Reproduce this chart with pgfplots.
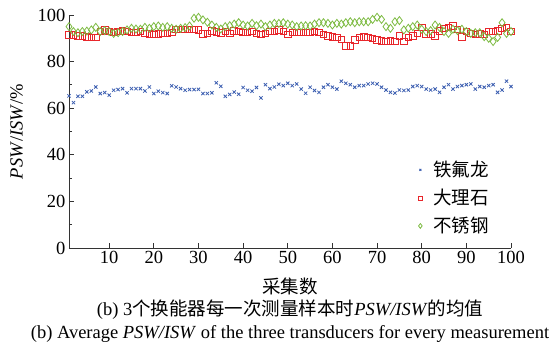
\documentclass[border=0pt]{standalone}
\usepackage{pgfplots}
\usepackage{pgfplotstable}
\pgfplotsset{compat=1.18}
\usepackage{fontspec}
\setmainfont{Liberation Serif}
\newfontfamily\cjk{Noto Sans CJK SC}
\definecolor{cblue}{HTML}{3A5DB0}
\definecolor{cred}{HTML}{E8262B}
\definecolor{cgreen}{HTML}{7DBB42}
\pgfplotstableread{
x t m s
1 65.3 91.4 95.0
2 62.4 91.4 92.9
3 65.1 91.1 92.4
4 65.1 91.0 92.9
5 67.0 90.7 93.1
6 67.4 90.3 93.6
7 69.1 90.4 94.7
8 66.3 92.9 92.9
9 66.7 93.6 93.3
10 65.6 92.9 92.9
11 67.7 92.6 92.1
12 68.0 92.9 92.4
13 68.4 93.3 92.9
14 66.6 92.9 93.6
15 68.4 92.6 94.3
16 68.4 92.6 94.0
17 68.4 92.9 93.9
18 67.4 92.1 94.7
19 69.1 91.9 94.3
20 66.3 91.7 95.0
21 67.3 91.9 95.3
22 66.7 92.1 94.7
23 66.3 92.1 95.0
24 69.6 92.6 94.3
25 69.1 93.9 93.9
26 68.4 93.9 94.3
27 67.7 93.9 94.6
28 68.0 93.9 95.3
29 68.0 93.9 98.6
30 68.1 93.6 99.0
31 66.3 91.9 97.9
32 66.3 92.1 96.9
33 66.6 93.3 95.7
34 70.9 92.7 94.7
35 69.4 92.4 94.0
36 65.1 92.9 95.0
37 65.9 92.1 95.4
38 66.9 93.3 96.1
39 66.0 92.9 96.7
40 68.9 92.6 95.7
41 67.7 92.6 95.3
42 67.3 92.9 96.4
43 68.9 92.1 95.4
44 64.4 91.7 96.1
45 70.1 92.1 95.0
46 68.4 92.9 95.7
47 69.1 92.9 96.4
48 70.3 93.6 96.4
49 69.7 92.9 96.7
50 70.7 91.7 96.1
51 69.7 92.6 95.7
52 70.4 92.6 95.0
53 68.2 92.6 95.3
54 66.4 92.6 95.4
55 69.0 92.6 95.3
56 67.6 92.9 96.1
57 66.8 92.6 96.7
58 69.0 91.7 96.7
59 70.1 91.0 96.4
60 69.0 90.7 95.7
61 68.2 90.4 96.4
62 71.6 89.6 96.1
63 70.7 86.7 96.7
64 70.1 86.7 97.1
65 69.0 89.3 96.7
66 69.7 90.4 97.1
67 69.7 90.7 97.1
68 70.4 90.4 97.1
69 70.7 90.0 98.1
70 70.4 89.3 99.0
71 69.0 89.0 98.1
72 67.8 88.6 95.0
73 66.8 88.9 94.3
74 66.5 88.6 97.1
75 67.8 91.0 97.6
76 67.6 88.6 93.6
77 67.8 90.3 94.3
78 69.3 91.0 95.0
79 69.7 92.1 95.7
80 69.3 94.7 93.9
81 68.2 91.9 92.9
82 67.8 91.9 93.3
83 68.2 91.0 95.7
84 66.8 93.3 94.7
85 69.0 94.3 92.9
86 70.1 94.7 92.1
87 68.2 95.3 93.9
88 69.3 93.9 93.3
89 69.7 90.7 93.9
90 70.1 92.9 92.9
91 70.4 92.1 92.1
92 68.2 91.7 92.4
93 69.3 91.9 92.4
94 69.0 91.7 90.7
95 69.7 92.9 90.0
96 70.1 92.9 88.6
97 66.8 93.3 90.4
98 67.8 94.3 96.7
99 71.6 94.7 92.1
100 69.3 92.9 92.9
}\datatable
\begin{document}
\begin{tikzpicture}
\begin{axis}[
  name=ax,
  scale only axis,
  width=442pt, height=233pt,
  xmin=1, xmax=100, ymin=0, ymax=100,
  axis lines*=left,
  axis line style={line width=0.8pt, black!80},
  tick style={line width=0.8pt, black!80},
  tick align=inside,
  major tick length=5pt,
  minor tick length=3pt,
  xtick={10,20,...,100},
  ytick={0,20,...,100},
  minor ytick={10,30,50,70,90},
  font=\fontsize{18.5}{22}\selectfont,
  /pgf/number format/assume math mode=true,
  ylabel={\textit{PSW}/\textit{ISW}/\%},
  ylabel style={yshift=8pt},
  clip=false,
  legend style={draw=none, fill=none, at={(rel axis cs:0.79,0.215)}, anchor=west,
    font=\fontsize{18.5}{22}\cjk\selectfont, row sep=7pt, column sep=9pt, inner sep=0pt},
  legend cell align=left,
  legend image post style={scale=0.6},
]
\addplot[only marks, mark=x, mark size=2.3pt, cblue, line width=0.8pt] table[x=x,y=t]{\datatable};
\addlegendentry{铁氟龙}
\addplot[only marks, mark=square, mark size=3.3pt, cred, line width=0.8pt] table[x=x,y=m]{\datatable};
\addlegendentry{大理石}
\addplot[only marks, mark=diamond, mark size=4pt, cgreen, line width=0.8pt] table[x=x,y=s]{\datatable};
\addlegendentry{不锈钢}
\end{axis}
\node[font=\fontsize{18.5}{22}\cjk\selectfont] at ([yshift=-38pt]ax.south) {采集数};
\node[font=\fontsize{18.5}{22}\selectfont] at ([yshift=-62pt]ax.south) {(b) 3{\cjk 个换能器每一次测量样本时}\textit{PSW/ISW}{\cjk 的均值}};
\node[font=\fontsize{18.5}{22}\selectfont] at ([yshift=-86pt]ax.south) {(b) Average \textit{PSW/ISW} of the three transducers for every measurement};
\pgfresetboundingbox
\path[use as bounding box] (-69pt,-102pt) rectangle (482pt,248pt);
\end{tikzpicture}
\end{document}
